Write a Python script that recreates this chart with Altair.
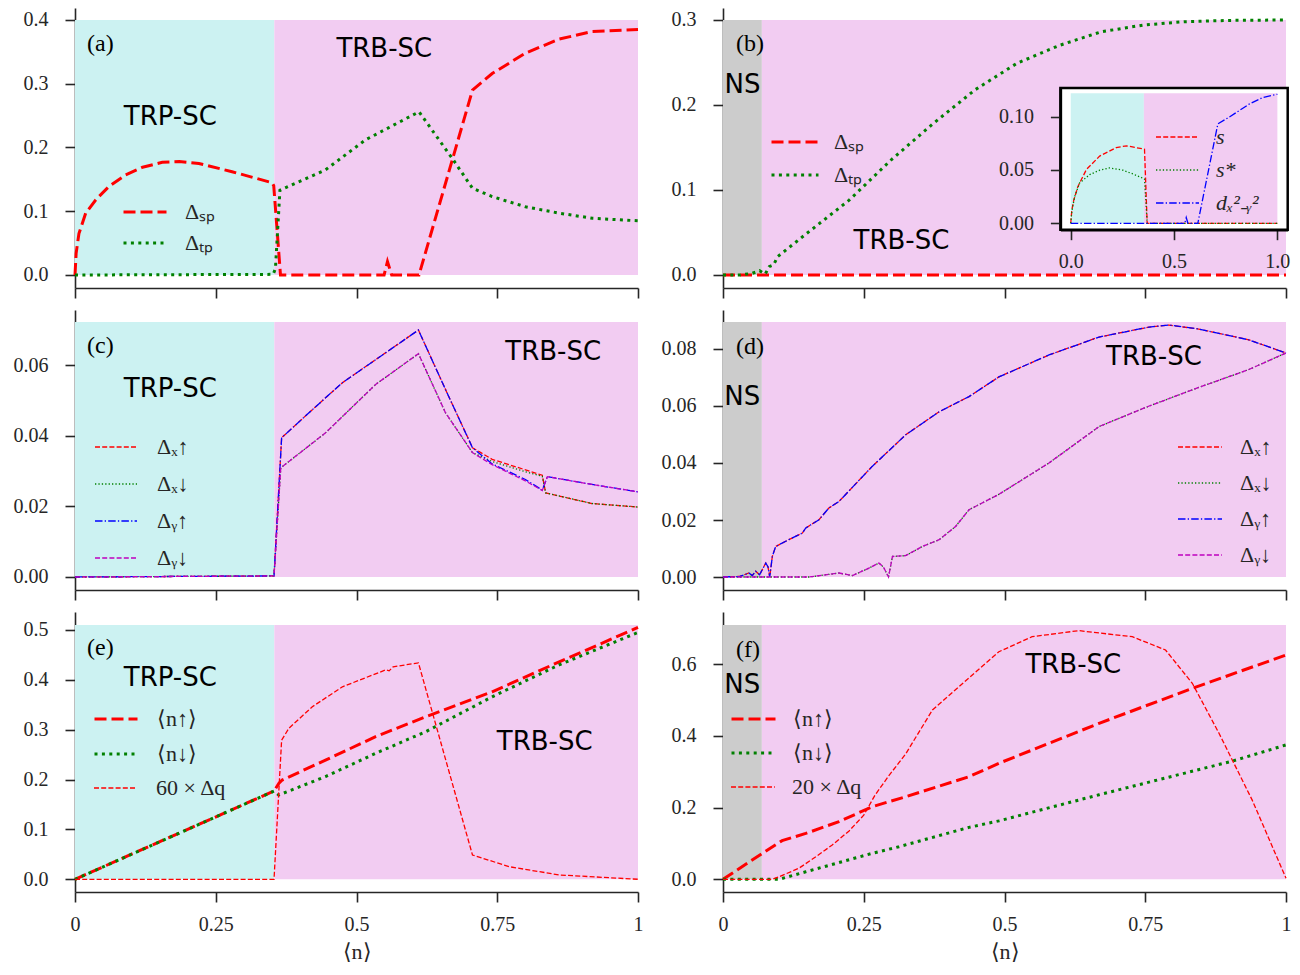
import altair as alt
import pandas as pd

# ---------------- values ----------------
XTICKS = [0, 0.25, 0.5, 0.75, 1]
TRP_END = 0.354     # TRP-SC | TRB-SC boundary (left column and inset)
NS_END = 0.069      # NS | TRB-SC boundary (right column)

# (a)
a_sp_n = [0, 0.002, 0.007, 0.019, 0.037, 0.06, 0.09, 0.12, 0.155, 0.185, 0.22, 0.279, 0.35, 0.353,
          0.365, 0.549, 0.555, 0.5625, 0.611, 0.706, 0.741, 0.80, 0.86, 0.919, 1.0]
a_sp = [0, 0.034, 0.065, 0.097, 0.118, 0.1386, 0.157, 0.169, 0.1768, 0.178, 0.175, 0.162, 0.1448, 0.14,
        0, 0, 0.021, 0, 0, 0.290, 0.316, 0.348, 0.370, 0.382, 0.385]
a_tp_n = [0, 0.352, 0.356, 0.364, 0.445, 0.516, 0.611, 0.67, 0.706, 0.741, 0.80, 0.86, 0.919, 1.0]
a_tp = [0, 0.001, 0.01, 0.133, 0.165, 0.212, 0.256, 0.183, 0.136, 0.123, 0.107, 0.097, 0.089, 0.085]

# (b)
b_sp_n = [0, 1.0]
b_sp = [0, 0]
b_tp_n = [0, 0.03, 0.052, 0.065, 0.075, 0.082, 0.09, 0.097, 0.149, 0.224, 0.298, 0.373, 0.448, 0.522,
          0.597, 0.671, 0.746, 0.82, 0.9, 1.0]
b_tp = [0, 0.0, 0.002, 0.005, 0.001, 0.0098, 0.012, 0.0216, 0.049, 0.088, 0.135, 0.178, 0.218, 0.249,
        0.27, 0.286, 0.294, 0.298, 0.2995, 0.3]

# inset of (b)
i_s_n = [0, 0.005, 0.015, 0.035, 0.076, 0.14, 0.22, 0.27, 0.357, 0.37, 1.0]
i_s = [0, 0.012, 0.022, 0.0346, 0.0505, 0.063, 0.071, 0.0727, 0.0695, 0, 0]
i_ss_n = [0, 0.006, 0.019, 0.043, 0.092, 0.14, 0.188, 0.253, 0.301, 0.357, 0.37, 1.0]
i_ss = [0, 0.012, 0.025, 0.0378, 0.0457, 0.0498, 0.052, 0.0498, 0.0463, 0.0416, 0, 0]
i_d_n = [0, 0.552, 0.559, 0.567, 0.615, 0.712, 0.768, 0.865, 0.929, 1.0]
i_d = [0, 0, 0.0054, 0, 0, 0.0933, 0.0997, 0.112, 0.118, 0.121]

# (c)
c_xu_n = [0, 0.3535, 0.367, 0.4156, 0.475, 0.552, 0.61, 0.658, 0.706, 0.741, 0.83, 0.836, 0.918, 1.0]
c_xu = [0, 0.0003, 0.0394, 0.0465, 0.055, 0.0635, 0.0699, 0.0531, 0.0366, 0.0333, 0.0288, 0.0238, 0.0208, 0.0198]
c_xd_n = [0, 0.3535, 0.3655, 0.445, 0.534, 0.61, 0.658, 0.706, 0.741, 0.80, 0.83, 0.836, 0.918, 1.0]
c_xd = [0, 0.0003, 0.0309, 0.0408, 0.0545, 0.0632, 0.0465, 0.0352, 0.0327, 0.0298, 0.0285, 0.0238, 0.0208, 0.0198]
c_yu_n = [0, 0.3535, 0.367, 0.4156, 0.475, 0.552, 0.61, 0.658, 0.706, 0.741, 0.80, 0.83, 0.839, 0.918, 1.0]
c_yu = [0, 0.0003, 0.0394, 0.0465, 0.055, 0.0635, 0.0699, 0.0531, 0.0366, 0.032, 0.0276, 0.0246, 0.0284, 0.0262, 0.0241]
c_yd_n = [0, 0.3535, 0.3655, 0.445, 0.534, 0.61, 0.658, 0.706, 0.741, 0.80, 0.83, 0.839, 0.918, 1.0]
c_yd = [0, 0.0003, 0.0309, 0.0408, 0.0545, 0.0632, 0.0465, 0.0352, 0.0318, 0.0272, 0.0245, 0.0284, 0.0262, 0.0241]

# (d)
d_up_n = [0, 0.03, 0.046, 0.052, 0.058, 0.065, 0.076, 0.08, 0.083, 0.0876, 0.0935, 0.117, 0.141, 0.147,
          0.1705, 0.188, 0.206, 0.265, 0.3245, 0.384, 0.437, 0.49, 0.579, 0.668, 0.757, 0.792, 0.845, 0.934, 1.0]
d_up = [0, 0.0002, 0.0014, 0.0005, 0.002, 0.0008, 0.0049, 0.0035, 0.0, 0.0072, 0.0107, 0.0131, 0.0154, 0.0172,
        0.0201, 0.0242, 0.0265, 0.0388, 0.0499, 0.058, 0.0633, 0.0702, 0.0779, 0.0842, 0.0877, 0.0884, 0.087, 0.0832, 0.0786]
d_dn_n = [0, 0.153, 0.206, 0.23, 0.259, 0.277, 0.285, 0.294, 0.301, 0.3245, 0.354, 0.384, 0.413, 0.437,
          0.49, 0.579, 0.668, 0.757, 0.845, 0.934, 1.0]
d_dn = [0, 0.0, 0.0014, 0.0005, 0.0031, 0.0049, 0.0035, 0.0, 0.0072, 0.0075, 0.0107, 0.0131, 0.0177, 0.0236,
        0.029, 0.04, 0.0528, 0.06, 0.0665, 0.0728, 0.0786]

# (e)
e_up_n = [0, 0.3535, 0.3623, 0.368, 0.445, 0.534, 0.623, 0.741, 0.86, 1.0]
e_up = [0, 0.177, 0.1925, 0.199, 0.239, 0.286, 0.326, 0.376, 0.436, 0.505]
e_dn_n = [0, 0.3535, 0.362, 0.445, 0.534, 0.623, 0.741, 0.86, 1.0]
e_dn = [0, 0.177, 0.169, 0.206, 0.2526, 0.296, 0.366, 0.430, 0.495]
e_q_n = [0, 0.3535, 0.367, 0.38, 0.4215, 0.475, 0.552, 0.558, 0.565, 0.61, 0.706, 0.771, 0.86, 1.0]
e_q = [0, 0, 0.279, 0.303, 0.346, 0.386, 0.42, 0.418, 0.426, 0.434, 0.0487, 0.0253, 0.0087, 0.0]

# (f)
f_up_n = [0, 0.07, 0.105, 0.147, 0.206, 0.265, 0.3245, 0.437, 0.49, 0.668, 0.8336, 1.0]
f_up = [0, 0.0725, 0.108, 0.128, 0.161, 0.2026, 0.2305, 0.2864, 0.3237, 0.4353, 0.533, 0.626]
f_dn_n = [0, 0.0995, 0.147, 0.265, 0.3126, 0.437, 0.49, 0.668, 0.905, 1.0]
f_dn = [0, 0, 0.021, 0.0725, 0.091, 0.145, 0.163, 0.236, 0.33, 0.375]
f_q_n = [0, 0.0876, 0.0995, 0.135, 0.165, 0.194, 0.224, 0.25, 0.27, 0.295, 0.3245, 0.372, 0.419, 0.49,
         0.549, 0.632, 0.727, 0.786, 0.8336, 0.881, 0.94, 1.0]
f_q = [0, 0, 0.007, 0.031, 0.063, 0.0957, 0.135, 0.179, 0.235, 0.29, 0.35, 0.4725, 0.5375, 0.635,
       0.677, 0.694, 0.677, 0.64, 0.547, 0.4075, 0.221, 0.003]

# height of the phase shading in each panel
TOP_A, TOP_B, TOP_C, TOP_D, TOP_E, TOP_F, TOP_I = 0.4, 0.3, 0.0722, 0.0895, 0.51, 0.71, 0.122

# labels
L_SP, L_TP = "Δₛₚ", "Δₜₚ"
L_XU, L_XD, L_YU, L_YD = "Δₓ↑", "Δₓ↓", "Δᵧ↑", "Δᵧ↓"
L_NU, L_ND = "⟨n↑⟩", "⟨n↓⟩"
L_Q60, L_Q20 = "60 × Δq", "20 × Δq"
L_S, L_SS, L_D = "s", "s*", "dₓ²₋ᵧ²"
PHASES = ["TRP-SC", "TRB-SC", "NS"]

# ---------------- styles / layout ----------------
RED, GREEN, BLUE, MAG = "#ff0000", "#008000", "#0000ff", "#bf00bf"
PHASE_COLORS = ["#ccf2f2", "#f2ccf2", "#cccccc"]
INK = "#262626"
SERIF = "Liberation Serif"
SANS = "DejaVu Sans"
THICK, THIN = 3.0, 1.3
DASH_K, DOT_K = [12, 5], [3, 4.4]
DASH_T, DOT_T, DASHDOT_T = [5, 2.2], [1.3, 2.1], [7.5, 2.2, 1.3, 2.2]
W, H = 563, 280


def sdf(items):
    rows = []
    for name, ns, vs in items:
        for i, (n, v) in enumerate(zip(ns, vs)):
            rows.append({"s": name, "n": n, "v": v, "o": i})
    return pd.DataFrame(rows)


def encoders(xscale, yscale, xaxis, yaxis, xtitle):
    def xe(f):
        return alt.X(f, type="quantitative", scale=xscale, axis=xaxis, title=xtitle)

    def ye(f):
        return alt.Y(f, type="quantitative", scale=yscale, axis=yaxis, title=None)
    return xe, ye


def bg_layer(regions, top, xe, ye):
    df = pd.DataFrame({"phase": [r[0] for r in regions], "x0": [r[1] for r in regions],
                       "x1": [r[2] for r in regions], "y0": [0.0] * len(regions),
                       "y1": [top] * len(regions)})
    return alt.Chart(df).mark_rect().encode(
        x=xe("x0"), x2="x1", y=ye("y0"), y2="y1",
        fill=alt.Fill("phase:N", scale=alt.Scale(domain=PHASES, range=PHASE_COLORS), legend=None))


def line_layer(items, key, colors, dashes, width, legend, xe, ye):
    names = [it[0] for it in items]
    df = sdf(items).rename(columns={"s": key})
    return alt.Chart(df).mark_line(strokeWidth=width, strokeCap="butt").encode(
        x=xe("n"), y=ye("v"),
        color=alt.Color(f"{key}:N", scale=alt.Scale(domain=names, range=colors), legend=legend),
        strokeDash=alt.StrokeDash(f"{key}:N", scale=alt.Scale(domain=names, range=dashes), legend=legend),
        order="o:Q")


def text_layer(items, xe, ye, font, size, align):
    df = pd.DataFrame(items, columns=["t", "tx", "ty"])
    return alt.Chart(df).mark_text(font=font, fontSize=size, align=align, baseline="middle",
                                   color="black").encode(x=xe("tx"), y=ye("ty"), text="t:N")


def legend(lx, first_center, L, row_h, laboff, sw, italic=False):
    kw = dict(orient="none", legendX=lx, legendY=first_center - row_h / 2, symbolType="stroke",
              symbolSize=L * L, clipHeight=row_h, rowPadding=0, labelOffset=laboff,
              labelFont=SERIF, labelFontSize=22, labelColor=INK, padding=0, title=None,
              symbolStrokeWidth=sw, labelLimit=300)
    if italic:
        kw["labelFontStyle"] = "italic"
    return alt.Legend(**kw)


def main_axes(ylo, yhi, yticks, yfmt, bottom):
    xs = alt.Scale(domain=[0, 1], nice=False, zero=False)
    ys = alt.Scale(domain=[ylo, yhi], nice=False, zero=False)
    if bottom:
        xa = alt.Axis(values=XTICKS, format=".2~f", orient="bottom")
    else:
        xa = alt.Axis(values=XTICKS, labels=False, orient="bottom")
    ya = alt.Axis(values=yticks, format=yfmt, orient="left")
    return encoders(xs, ys, xa, ya, "⟨n⟩" if bottom else None)


LEFT_BG = [("TRP-SC", 0, TRP_END), ("TRB-SC", TRP_END, 1)]
RIGHT_BG = [("NS", 0, NS_END), ("TRB-SC", NS_END, 1)]
IND = dict(color="independent", strokeDash="independent")

# ---- (a)
xe, ye = main_axes(-0.0204, 0.4188, [0, 0.1, 0.2, 0.3, 0.4], ".1f", False)
pa = alt.layer(
    bg_layer(LEFT_BG, TOP_A, xe, ye),
    line_layer([(L_SP, a_sp_n, a_sp), (L_TP, a_tp_n, a_tp)], "sa", [RED, GREEN],
               [DASH_K, DOT_K], THICK, legend(47, 204, 43, 31, 17, THICK), xe, ye),
    text_layer([("TRP-SC", 0.1693, 0.248), ("TRB-SC", 0.5494, 0.355)], xe, ye, SANS, 26, "center"),
    text_layer([("(a)", 0.0213, 0.362)], xe, ye, SERIF, 24, "left"),
).properties(width=W, height=H)

# ---- (b) with inset
xe, ye = main_axes(-0.0153, 0.3141, [0, 0.1, 0.2, 0.3], ".1f", False)
b_main = alt.layer(
    bg_layer(RIGHT_BG, TOP_B, xe, ye),
    line_layer([(L_SP, b_sp_n, b_sp), (L_TP, b_tp_n, b_tp)], "sb", [RED, GREEN],
               [DASH_K, DOT_K], THICK, legend(47, 134, 47, 33, 14, THICK), xe, ye),
    text_layer([("NS", 0.0346, 0.2241), ("TRB-SC", 0.317, 0.0398)], xe, ye, SANS, 26, "center"),
    text_layer([("(b)", 0.0231, 0.2718)], xe, ye, SERIF, 24, "left"),
)
INSET_XLIM = [-0.05, 1.05]
INSET_YLIM = [-0.006, 0.127]
ixs = alt.Scale(domain=INSET_XLIM, range=[337.4, 564.7], nice=False, zero=False)
iys = alt.Scale(domain=INSET_YLIM, range=[221.7, 79.9], nice=False, zero=False)
ixa = alt.Axis(values=[0, 0.5, 1], format=".1f", orient="bottom", offset=-58.3, labelPadding=12, zindex=2,
               domainWidth=2.5, domainColor="black")
iya = alt.Axis(values=[0, 0.05, 0.1], format=".2f", orient="left", offset=-337.4, zindex=2,
               domainWidth=2.5, domainColor="black")
ixe, iye = encoders(ixs, iys, ixa, iya, None)
frame_df = pd.DataFrame({"x0": [INSET_XLIM[0]], "x1": [INSET_XLIM[1]],
                         "y0": [INSET_YLIM[0]], "y1": [INSET_YLIM[1]]})
frame = alt.Chart(frame_df).mark_rect(fill="white", stroke="black", strokeWidth=2.5).encode(
    x=ixe("x0"), x2="x1", y=iye("y0"), y2="y1")
b_inset = alt.layer(
    frame,
    bg_layer(LEFT_BG, TOP_I, ixe, iye),
    line_layer([(L_S, i_s_n, i_s), (L_SS, i_ss_n, i_ss), (L_D, i_d_n, i_d)], "si",
               [RED, GREEN, BLUE], [DASH_T, DOT_T, DASHDOT_T], THIN,
               legend(432, 129, 43, 32.5, 16, THIN, italic=True), ixe, iye),
)
pb = alt.layer(b_main, b_inset).resolve_scale(
    x="independent", y="independent", **IND
).properties(width=W, height=H)

# ---- (c)
xe, ye = main_axes(-0.00368, 0.07557, [0, 0.02, 0.04, 0.06], ".2f", False)
pc = alt.layer(
    bg_layer(LEFT_BG, TOP_C, xe, ye),
    line_layer([(L_XU, c_xu_n, c_xu), (L_XD, c_xd_n, c_xd), (L_YU, c_yu_n, c_yu), (L_YD, c_yd_n, c_yd)],
               "sc", [RED, GREEN, BLUE, MAG], [DASH_T, DOT_T, DASHDOT_T, DASH_T],
               THIN, legend(19, 137, 42, 36.7, 19, THIN), xe, ye),
    text_layer([("TRP-SC", 0.1693, 0.0531), ("TRB-SC", 0.8493, 0.0636)], xe, ye, SANS, 26, "center"),
    text_layer([("(c)", 0.0213, 0.0654)], xe, ye, SERIF, 24, "left"),
).properties(width=W, height=H)

# ---- (d)
xe, ye = main_axes(-0.00456, 0.09368, [0, 0.02, 0.04, 0.06, 0.08], ".2f", False)
pd_ = alt.layer(
    bg_layer(RIGHT_BG, TOP_D, xe, ye),
    line_layer([(L_XU, d_up_n, d_up), (L_XD, d_dn_n, d_dn), (L_YU, d_up_n, d_up), (L_YD, d_dn_n, d_dn)],
               "sd", [RED, GREEN, BLUE, MAG], [DASH_T, DOT_T, DASHDOT_T, DASH_T],
               THIN, legend(454, 137, 44, 36, 17, THIN), xe, ye),
    text_layer([("NS", 0.0343, 0.0632), ("TRB-SC", 0.7655, 0.0772)], xe, ye, SANS, 26, "center"),
    text_layer([("(d)", 0.0231, 0.0808)], xe, ye, SERIF, 24, "left"),
).properties(width=W, height=H)

# ---- (e)
xe, ye = main_axes(-0.0255, 0.536, [0, 0.1, 0.2, 0.3, 0.4, 0.5], ".1f", True)
pe = alt.layer(
    bg_layer(LEFT_BG, TOP_E, xe, ye),
    line_layer([(L_NU, e_up_n, e_up), (L_ND, e_dn_n, e_dn)], "se", [RED, GREEN], [DASH_K, DOT_K],
               THICK, legend(18, 107, 43, 34.5, 18, THICK), xe, ye),
    line_layer([(L_Q60, e_q_n, e_q)], "sq", [RED], [DASH_T], THIN,
               legend(18, 176, 43, 34.5, 18, THIN), xe, ye),
    text_layer([("TRP-SC", 0.1693, 0.404), ("TRB-SC", 0.8343, 0.276)], xe, ye, SANS, 26, "center"),
    text_layer([("(e)", 0.0213, 0.4632)], xe, ye, SERIF, 24, "left"),
).resolve_scale(**IND).properties(width=W, height=H)

# ---- (f)
xe, ye = main_axes(-0.0354, 0.746, [0, 0.2, 0.4, 0.6], ".1f", True)
pf = alt.layer(
    bg_layer(RIGHT_BG, TOP_F, xe, ye),
    line_layer([(L_NU, f_up_n, f_up), (L_ND, f_dn_n, f_dn)], "sf", [RED, GREEN], [DASH_K, DOT_K],
               THICK, legend(7, 107, 44, 34, 16, THICK), xe, ye),
    line_layer([(L_Q20, f_q_n, f_q)], "sg", [RED], [DASH_T], THIN,
               legend(7, 175, 44, 34, 16, THIN), xe, ye),
    text_layer([("NS", 0.0343, 0.541), ("TRB-SC", 0.6222, 0.598)], xe, ye, SANS, 26, "center"),
    text_layer([("(f)", 0.0231, 0.64)], xe, ye, SERIF, 24, "left"),
).resolve_scale(**IND).properties(width=W, height=H)

chart = alt.concat(
    pa, pb, pc, pd_, pe, pf, columns=2, spacing={"row": 22, "column": 85}, bounds="flush"
).resolve_scale(**IND).properties(
    padding={"left": 5, "top": 0, "right": 0, "bottom": 0}
).configure_view(stroke=None).configure_axis(
    domainColor=INK, domainWidth=1.6, tickColor=INK, tickWidth=1.6, tickSize=10,
    labelFont=SERIF, labelFontSize=20, labelColor=INK, grid=False, labelFlush=False,
    titleFont=SERIF, titleFontSize=22, titleFontWeight="normal", titleColor=INK
).configure_axisX(labelPadding=12, titlePadding=7).configure_axisY(labelPadding=17)

chart.save("out.html", embed_options={"renderer": "svg", "actions": False})
